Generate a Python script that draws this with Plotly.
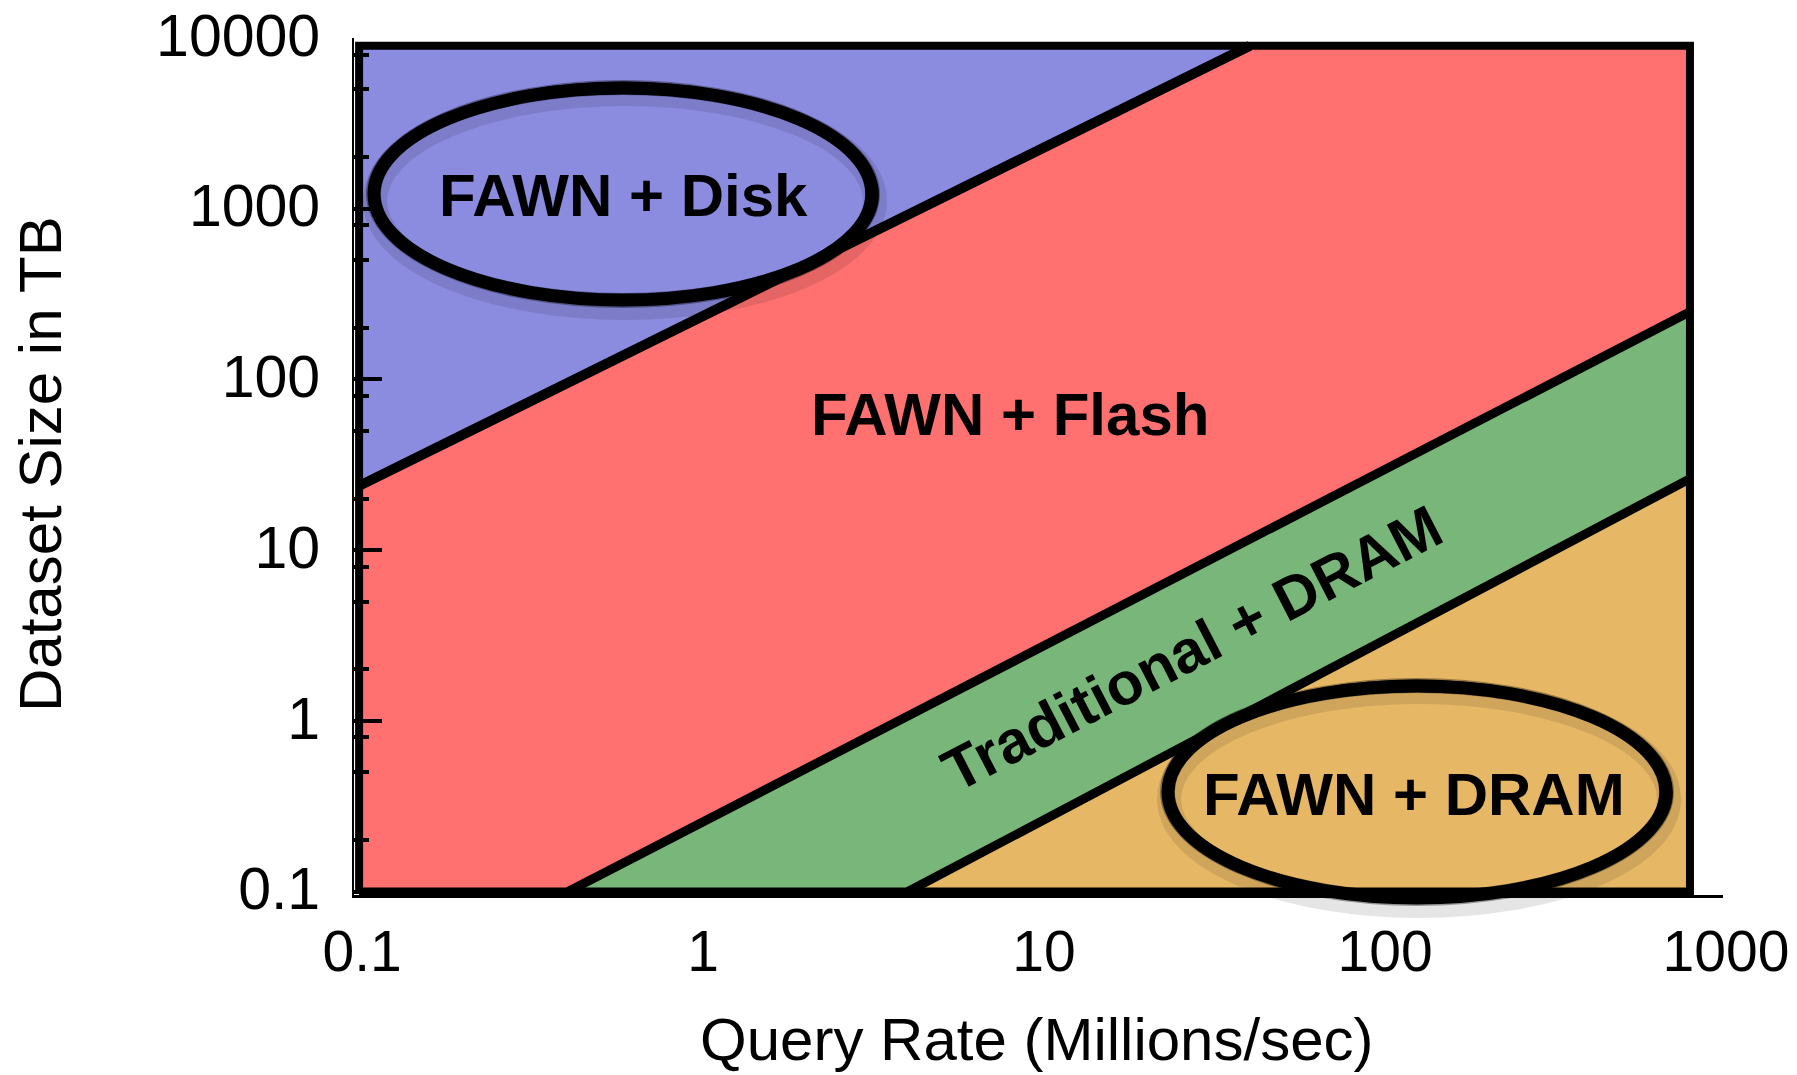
import plotly.graph_objects as go

# ---------------- data ----------------
X_MIN, X_MAX = 0.1, 800      # extent of the coloured box (Query rate, Millions/sec)
Y_MIN, Y_MAX = 0.1, 9000     # extent of the coloured box (Dataset size, TB)

# boundary lines between regions (endpoints on the box edges)
disk_flash_x = [0.1, 41]
disk_flash_y = [23.8, 9000]
flash_dram_x = [0.41, 800]
flash_dram_y = [0.1, 249]
dram_fawn_x = [4.07, 800]
dram_fawn_y = [0.1, 26.2]

region_names = ["FAWN + Disk", "FAWN + Flash", "Traditional + DRAM", "FAWN + DRAM"]
region_colors = ["#8B8BDF", "#FF7171", "#79B679", "#E6B866"]

x_tickvals = [0.1, 1, 10, 100, 1000]
x_ticktext = ["0.1", "1", "10", "100", "1000"]
y_tickvals = [0.1, 1, 10, 100, 1000, 10000]
y_ticktext = ["0.1", "1", "10", "100", "1000", "10000"]
y_minor_vals = [0.2, 0.5, 0.8, 2, 5, 8, 20, 50, 80, 200, 500, 800, 2000, 5000, 8000]

x_title = "Query Rate (Millions/sec)"
y_title = "Dataset Size in TB"

# ---------------- layout geometry (page pixels; body margin removed below) ----------------
W, H = 1797, 1075
ML, MT = 354, 38
PW, PH = 1369, 857
MR, MB = W - ML - PW, H - MT - PH


def px(x):          # page pixel -> paper fraction
    return (x - ML) / PW


def py(y):
    return 1 - (y - MT) / PH


FONT = "Liberation Sans, Arial, Helvetica, sans-serif"

fig = go.Figure()

# regions
polys = [
    ([X_MIN, disk_flash_x[1], X_MIN], [disk_flash_y[0], Y_MAX, Y_MAX]),
    ([X_MIN, flash_dram_x[0], flash_dram_x[1], X_MAX, disk_flash_x[1], X_MIN],
     [Y_MIN, flash_dram_y[0], flash_dram_y[1], Y_MAX, Y_MAX, disk_flash_y[0]]),
    ([flash_dram_x[0], dram_fawn_x[0], dram_fawn_x[1], flash_dram_x[1]],
     [flash_dram_y[0], dram_fawn_y[0], dram_fawn_y[1], flash_dram_y[1]]),
    ([dram_fawn_x[0], X_MAX, dram_fawn_x[1]], [Y_MIN, Y_MIN, dram_fawn_y[1]]),
]
for (xs, ys), name, col in zip(polys, region_names, region_colors):
    fig.add_trace(go.Scatter(x=xs, y=ys, fill="toself", fillcolor=col, mode="lines",
                             line=dict(width=0, color=col), name=name,
                             showlegend=False, hoverinfo="skip"))

# boundaries
for (xs, ys), lw in zip([(disk_flash_x, disk_flash_y), (flash_dram_x, flash_dram_y),
                         (dram_fawn_x, dram_fawn_y)], [10, 9, 9]):
    fig.add_trace(go.Scatter(x=xs, y=ys, mode="lines", line=dict(color="black", width=lw),
                             showlegend=False, hoverinfo="skip"))

# frame
fig.add_trace(go.Scatter(x=[X_MIN, X_MAX, X_MAX, X_MIN, X_MIN],
                         y=[Y_MIN, Y_MIN, Y_MAX, Y_MAX, Y_MIN],
                         mode="lines", line=dict(color="black", width=8),
                         showlegend=False, hoverinfo="skip"))


# hand-drawn style ellipses (decoration)
def ellipse(cx, cy, rx, ry, width, color, dx=0, dy=0):
    fig.add_shape(type="circle", xref="paper", yref="paper", layer="above",
                  x0=px(cx - rx + dx), x1=px(cx + rx + dx),
                  y0=py(cy + ry + dy), y1=py(cy - ry + dy),
                  line=dict(color=color, width=width))


for (cx, cy) in [(623, 194), (1417, 792)]:
    ellipse(cx, cy, 250, 107, 24, "rgba(0,0,0,0.10)", dx=2, dy=7)
    ellipse(cx, cy, 249, 106, 13, "black")
    ellipse(cx, cy, 252, 104, 6, "rgba(0,0,0,0.8)", dx=1, dy=1)
    ellipse(cx, cy, 246, 109, 5, "rgba(0,0,0,0.8)", dx=-1, dy=-1)
    ellipse(cx, cy, 243, 100, 2, "rgba(0,0,0,0.35)")
    ellipse(cx, cy, 256, 113, 2, "rgba(0,0,0,0.35)")

# region labels
label_pos = [(623, 195, 0), (1010, 414, 0), (1192, 648, -27.3), (1414, 794, 0)]
for name, (x, y, ang) in zip(region_names, label_pos):
    fig.add_annotation(text="<b>%s</b>" % name, xref="paper", yref="paper",
                       x=px(x), y=py(y), xanchor="center", yanchor="middle",
                       showarrow=False, textangle=ang,
                       font=dict(family=FONT, size=60, color="black"))

# axis titles
fig.add_annotation(text=x_title, xref="paper", yref="paper", x=px(1037), y=py(1039),
                   xanchor="center", yanchor="middle", showarrow=False,
                   font=dict(family=FONT, size=60, color="black"))
fig.add_annotation(text=y_title, xref="paper", yref="paper", x=px(40), y=py(464),
                   xanchor="center", yanchor="middle", showarrow=False, textangle=-90,
                   font=dict(family=FONT, size=60, color="black"))

fig.update_layout(
    width=W, height=H,
    margin=dict(l=ML, r=MR, t=MT, b=MB, autoexpand=False),
    paper_bgcolor="white", plot_bgcolor="white",
    showlegend=False,
    xaxis=dict(type="log", range=[-1.015, 3.0], showgrid=False, zeroline=False,
               showline=True, linecolor="black", linewidth=3, ticks="",
               tickmode="array", tickvals=x_tickvals, ticktext=x_ticktext,
               tickfont=dict(family=FONT, size=57, color="black"),
               ticklabelstandoff=5, ticklabelshift=3, ticklabeloverflow="allow",
               automargin=False),
    yaxis=dict(type="log", range=[-1.02, 4.0], showgrid=False, zeroline=False,
               showline=True, linecolor="black", linewidth=2,
               ticks="inside", ticklen=28, tickwidth=4, tickcolor="black",
               tickmode="array", tickvals=y_tickvals, ticktext=y_ticktext,
               minor=dict(ticks="inside", ticklen=15, tickwidth=4, tickcolor="black",
                          tickmode="array", tickvals=y_minor_vals, showgrid=False),
               tickfont=dict(family=FONT, size=59, color="black"),
               ticklabelstandoff=20, ticklabelshift=-3, ticklabeloverflow="allow",
               automargin=False),
)

fig.write_html("out.html",
               config={"displayModeBar": False},
               post_script="document.body.style.margin='0px';"
                           "document.body.style.overflow='hidden';")
